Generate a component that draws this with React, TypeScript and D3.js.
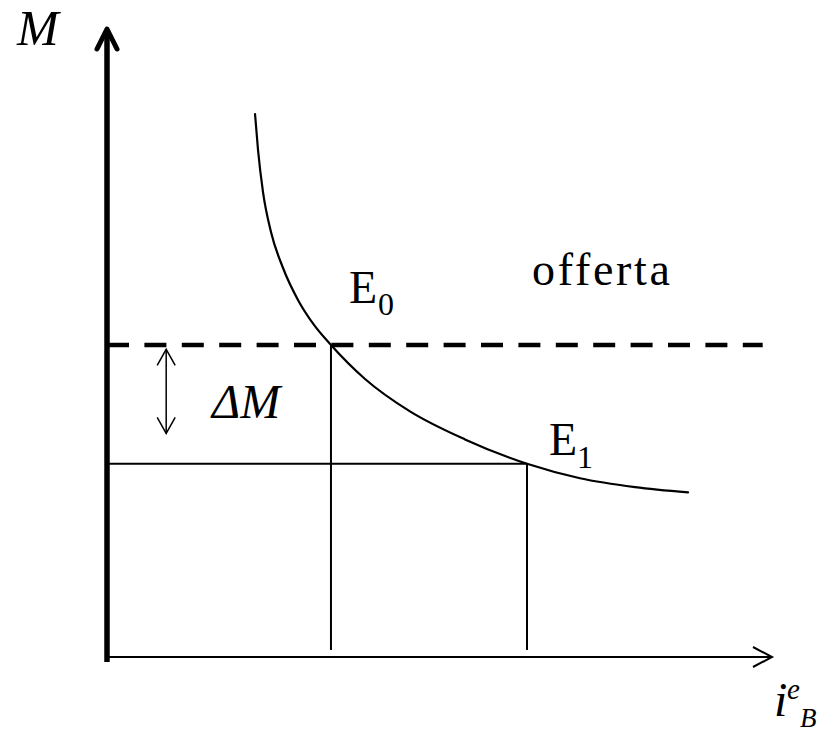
import React from "react";
import * as d3 from "d3";

// Data (abstract units: x = expected rate i^e_B, y = money M), 0..100 on each axis
const curveX = [22.26, 22.71, 23.46, 24.66, 26.47, 28.72, 31.13, 33.68, 38.8, 45.56, 53.83, 63.16, 71.13, 79.4, 87.37];
const curveY = [86.46, 80.73, 74.04, 67.68, 61.94, 56.85, 52.87, 49.68, 44.27, 39.11, 34.65, 30.76, 28.46, 27.05, 26.21];
const eqX = [33.68, 63.16]; // E0, E1
const eqY = [49.68, 30.76];
const dashEndX = 98.6;
const deltaArrowX = 8.9;
const deltaArrowY = [49.0, 35.6];

const W = 823;
const H = 735;

export default function App() {
  const x = d3.scaleLinear().domain([0, 100]).range([107, 772]);
  const y = d3.scaleLinear().domain([0, 100]).range([657, 29]);

  const pts: [number, number][] = curveX.map((v, i) => [x(v), y(curveY[i])]);
  const line = d3.line().curve(d3.curveMonotoneX)(pts) || "";

  const x0 = x(0);
  const y0 = y(0);
  const top = y(100);
  const right = x(100);
  const vEnd = y0 - 7;

  const ax = x(deltaArrowX);
  const ay1 = y(deltaArrowY[0]);
  const ay2 = y(deltaArrowY[1]);

  const serif = "'Liberation Serif', 'Times New Roman', serif";

  return (
    <svg
      width={W}
      height={H}
      viewBox={`0 0 ${W} ${H}`}
      style={{ position: "absolute", left: 0, top: 0, background: "#fff" }}
    >
      {/* vertical axis */}
      <line x1={x0} y1={top + 2} x2={x0} y2={y0 + 5} stroke="#000" strokeWidth={5.5} />
      <polyline
        points={`${x0 - 10},${top + 20} ${x0},${top} ${x0 + 10},${top + 20}`}
        fill="none"
        stroke="#000"
        strokeWidth={5}
        strokeLinecap="round"
        strokeLinejoin="round"
      />
      {/* horizontal axis */}
      <line x1={x0} y1={y0} x2={right} y2={y0} stroke="#000" strokeWidth={2} />
      <polyline
        points={`${right - 19},${y0 - 10} ${right},${y0} ${right - 19},${y0 + 10}`}
        fill="none"
        stroke="#000"
        strokeWidth={2}
      />

      {/* dashed supply line */}
      <line
        x1={x0}
        y1={y(eqY[0])}
        x2={x(dashEndX)}
        y2={y(eqY[0])}
        stroke="#000"
        strokeWidth={4.5}
        strokeDasharray="22,15.4"
      />

      {/* guide lines */}
      <line x1={x(eqX[0])} y1={y(eqY[0])} x2={x(eqX[0])} y2={vEnd} stroke="#000" strokeWidth={2} />
      <line x1={x0} y1={y(eqY[1])} x2={x(eqX[1])} y2={y(eqY[1])} stroke="#000" strokeWidth={2} />
      <line x1={x(eqX[1])} y1={y(eqY[1])} x2={x(eqX[1])} y2={vEnd} stroke="#000" strokeWidth={2} />

      {/* demand curve */}
      <path d={line} fill="none" stroke="#000" strokeWidth={2.2} strokeLinecap="round" />

      {/* delta M double arrow */}
      <line x1={ax} y1={ay1} x2={ax} y2={ay2} stroke="#000" strokeWidth={1.5} />
      <polyline points={`${ax - 9},${ay1 + 16} ${ax},${ay1} ${ax + 9},${ay1 + 16}`} fill="none" stroke="#000" strokeWidth={1.5} />
      <polyline points={`${ax - 9},${ay2 - 16} ${ax},${ay2} ${ax + 9},${ay2 - 16}`} fill="none" stroke="#000" strokeWidth={1.5} />

      {/* labels */}
      <text x={17} y={45} fontFamily={serif} fontStyle="italic" fontSize={50}>M</text>
      <text x={212} y={418} fontFamily={serif} fontStyle="italic" fontSize={48}>ΔM</text>
      <text x={532} y={285} fontFamily={serif} fontSize={46} textLength={138} lengthAdjust="spacing">offerta</text>
      <text x={349} y={303} fontFamily={serif} fontSize={46}>
        E<tspan x={378} y={315} fontSize={32}>0</tspan>
      </text>
      <text x={549} y={455} fontFamily={serif} fontSize={46}>
        E<tspan x={577} y={468} fontSize={32}>1</tspan>
      </text>
      <text x={774} y={716} fontFamily={serif} fontStyle="italic" fontSize={48}>
        i<tspan x={787} y={699} fontSize={29}>e</tspan>
        <tspan x={800} y={727} fontSize={27}>B</tspan>
      </text>
    </svg>
  );
}
